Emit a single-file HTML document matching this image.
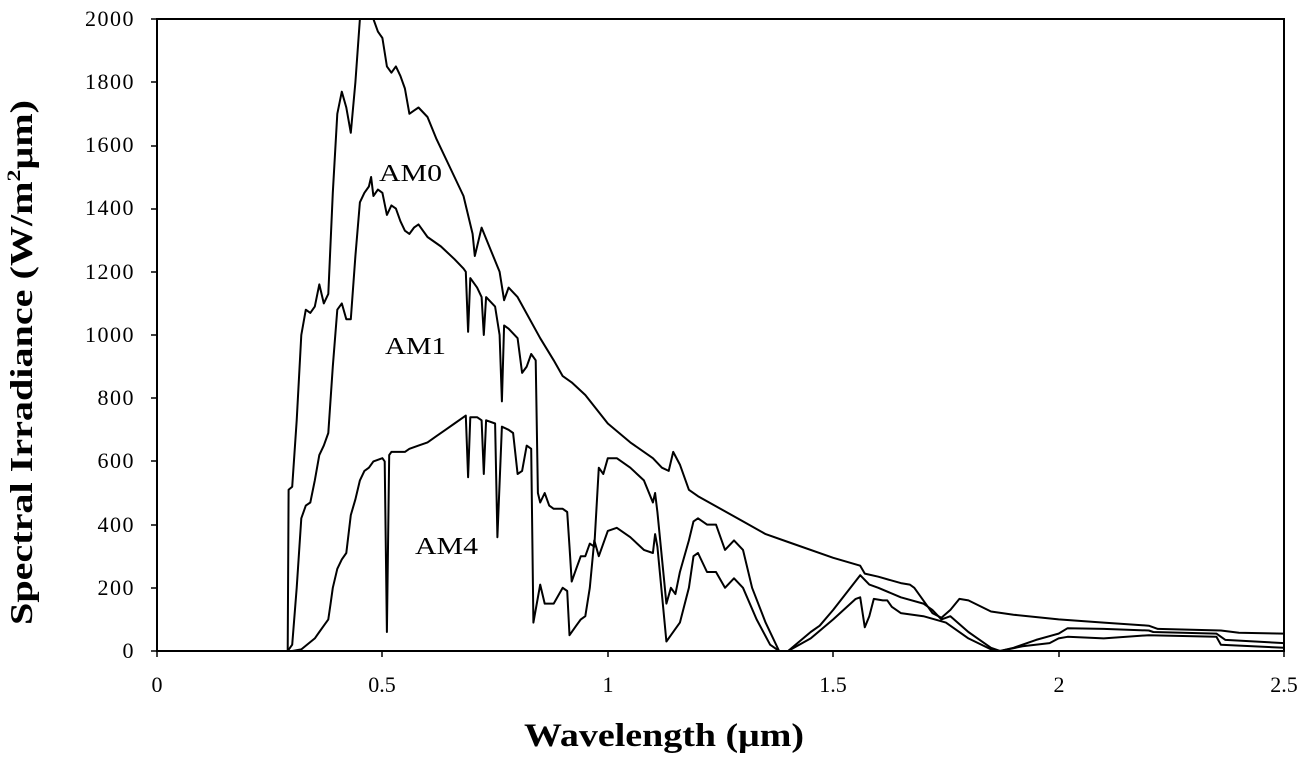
<!DOCTYPE html>
<html><head><meta charset="utf-8"><style>
html,body{margin:0;padding:0;background:#fff;}
svg{display:block;}
text{font-family:"Liberation Serif",serif;fill:#000;}
</style></head><body>
<svg id="s" width="1305" height="760" viewBox="0 0 1305 760" xmlns="http://www.w3.org/2000/svg">
<rect x="157" y="19" width="1127" height="632" fill="none" stroke="#000" stroke-width="2"/>
<g font-size="22" text-anchor="end" letter-spacing="1.5">
<text x="135" y="658">0</text><text x="135" y="595">200</text><text x="135" y="532">400</text><text x="135" y="468">600</text><text x="135" y="405">800</text><text x="135" y="342">1000</text><text x="135" y="279">1200</text><text x="135" y="215">1400</text><text x="135" y="152">1600</text><text x="135" y="89">1800</text><text x="135" y="26">2000</text>
</g>
<g stroke="#000" stroke-width="1.5">
<line x1="151" y1="651" x2="157" y2="651"/><line x1="151" y1="588" x2="157" y2="588"/><line x1="151" y1="525" x2="157" y2="525"/><line x1="151" y1="461" x2="157" y2="461"/><line x1="151" y1="398" x2="157" y2="398"/><line x1="151" y1="335" x2="157" y2="335"/><line x1="151" y1="272" x2="157" y2="272"/><line x1="151" y1="209" x2="157" y2="209"/><line x1="151" y1="146" x2="157" y2="146"/><line x1="151" y1="82" x2="157" y2="82"/><line x1="151" y1="19" x2="157" y2="19"/>
<line x1="157" y1="651" x2="157" y2="657"/><line x1="382" y1="651" x2="382" y2="657"/><line x1="608" y1="651" x2="608" y2="657"/><line x1="833" y1="651" x2="833" y2="657"/><line x1="1059" y1="651" x2="1059" y2="657"/><line x1="1284" y1="651" x2="1284" y2="657"/>
</g>
<g font-size="22" text-anchor="middle">
<text x="157" y="692">0</text><text x="382" y="692">0.5</text><text x="608" y="692">1</text><text x="833" y="692">1.5</text><text x="1059" y="692">2</text><text x="1284" y="692">2.5</text>
</g>
<text x="524" y="746" font-size="33" font-weight="bold" textLength="280" lengthAdjust="spacingAndGlyphs">Wavelength (μm)</text>
<text transform="translate(32,625) rotate(-90)" font-size="32" font-weight="bold" textLength="525" lengthAdjust="spacingAndGlyphs">Spectral Irradiance (W/m<tspan font-size="19" dy="-12">2</tspan><tspan dy="12">μm)</tspan></text>
<g font-size="24">
<text x="379" y="181" textLength="63" lengthAdjust="spacingAndGlyphs">AM0</text><text x="385" y="354" textLength="61" lengthAdjust="spacingAndGlyphs">AM1</text><text x="415" y="554" textLength="63" lengthAdjust="spacingAndGlyphs">AM4</text>
</g>
<defs><clipPath id="c"><rect x="157" y="19" width="1127" height="632"/></clipPath></defs>
<g id="curves" clip-path="url(#c)" fill="none" stroke="#000" stroke-width="2" stroke-linejoin="round"></g>
</svg>
<script>
var AM0=[0.29,0,0.292,510,0.30,520,0.31,730,0.32,1000,0.33,1080,0.34,1070,0.35,1090,0.36,1160,0.37,1100,0.38,1130,0.39,1450,0.40,1700,0.41,1770,0.42,1720,0.43,1640,0.44,1800,0.45,2000,0.46,2100,0.47,2050,0.48,2000,0.49,1960,0.50,1940,0.51,1850,0.52,1830,0.53,1850,0.54,1820,0.55,1780,0.56,1700,0.57,1710,0.58,1720,0.60,1690,0.62,1620,0.65,1530,0.68,1440,0.70,1320,0.705,1250,0.71,1280,0.72,1340,0.74,1270,0.76,1200,0.77,1110,0.78,1150,0.80,1120,0.85,990,0.88,920,0.90,870,0.92,850,0.95,810,1.0,720,1.05,660,1.1,610,1.12,580,1.135,570,1.145,630,1.16,590,1.18,510,1.2,490,1.3,410,1.35,370,1.4,345,1.5,295,1.56,270,1.57,245,1.6,235,1.65,215,1.67,210,1.68,200,1.72,120,1.74,105,1.76,130,1.78,165,1.80,160,1.85,125,1.9,115,2.0,100,2.1,90,2.2,80,2.22,70,2.36,65,2.4,58,2.5,55];
var AM1=[0.29,0,0.30,20,0.31,200,0.32,420,0.33,460,0.34,470,0.35,540,0.36,620,0.37,650,0.38,690,0.39,900,0.40,1080,0.41,1100,0.42,1050,0.43,1050,0.44,1250,0.45,1420,0.46,1450,0.47,1470,0.475,1500,0.48,1440,0.49,1460,0.50,1450,0.51,1380,0.52,1410,0.53,1400,0.54,1360,0.55,1330,0.56,1320,0.57,1340,0.58,1350,0.60,1310,0.63,1280,0.66,1240,0.68,1210,0.685,1200,0.69,1010,0.695,1180,0.71,1150,0.72,1120,0.725,1000,0.73,1120,0.75,1090,0.76,1000,0.765,790,0.77,1030,0.78,1020,0.80,990,0.81,880,0.82,900,0.83,940,0.84,920,0.845,500,0.85,470,0.86,500,0.87,460,0.88,450,0.90,450,0.91,440,0.915,330,0.92,220,0.93,260,0.94,300,0.95,300,0.96,340,0.97,330,0.98,580,0.99,560,1.0,610,1.02,610,1.05,580,1.08,540,1.10,470,1.105,500,1.11,440,1.13,150,1.14,200,1.15,180,1.16,250,1.18,350,1.19,410,1.20,420,1.22,400,1.24,400,1.26,320,1.28,350,1.30,320,1.32,200,1.35,90,1.38,0,1.40,0,1.45,60,1.47,80,1.5,130,1.56,240,1.58,210,1.6,200,1.65,170,1.7,150,1.72,130,1.74,100,1.76,110,1.8,60,1.85,10,1.87,0,1.9,10,1.95,35,2.0,55,2.02,72,2.1,70,2.2,65,2.21,60,2.35,55,2.37,35,2.5,25];
var AM4=[0.30,0,0.32,5,0.35,40,0.36,60,0.37,80,0.38,100,0.385,150,0.39,200,0.40,260,0.41,290,0.42,310,0.43,430,0.44,480,0.45,540,0.46,570,0.47,580,0.48,600,0.50,610,0.505,600,0.51,60,0.515,620,0.52,630,0.55,630,0.56,640,0.58,650,0.60,660,0.62,680,0.64,700,0.66,720,0.68,740,0.685,745,0.69,550,0.695,740,0.71,740,0.72,730,0.725,560,0.73,730,0.75,720,0.755,360,0.765,710,0.78,700,0.79,690,0.80,560,0.81,570,0.82,650,0.83,640,0.835,90,0.85,210,0.86,150,0.88,150,0.90,200,0.91,190,0.915,50,0.93,80,0.94,100,0.95,110,0.96,200,0.97,350,0.98,300,1.0,380,1.02,390,1.05,360,1.08,320,1.10,310,1.105,370,1.11,330,1.13,30,1.14,50,1.16,90,1.18,200,1.19,300,1.20,310,1.22,250,1.24,250,1.26,200,1.28,230,1.30,200,1.33,100,1.36,20,1.38,0,1.40,0,1.45,40,1.5,100,1.55,165,1.56,170,1.57,75,1.58,110,1.59,165,1.61,160,1.62,160,1.63,140,1.65,120,1.7,110,1.75,90,1.8,40,1.85,5,1.87,0,1.92,15,1.98,25,2.0,40,2.02,45,2.1,40,2.2,50,2.35,45,2.36,20,2.5,10];
var g=document.getElementById('curves');
[AM0,AM1,AM4].forEach(function(d){
 var p=[];for(var i=0;i<d.length;i+=2){p.push((157+d[i]*450.8).toFixed(1)+','+(651-d[i+1]*0.316).toFixed(1));}
 var e=document.createElementNS('http://www.w3.org/2000/svg','polyline');
 e.setAttribute('points',p.join(' '));g.appendChild(e);
});
</script>
</body></html>
